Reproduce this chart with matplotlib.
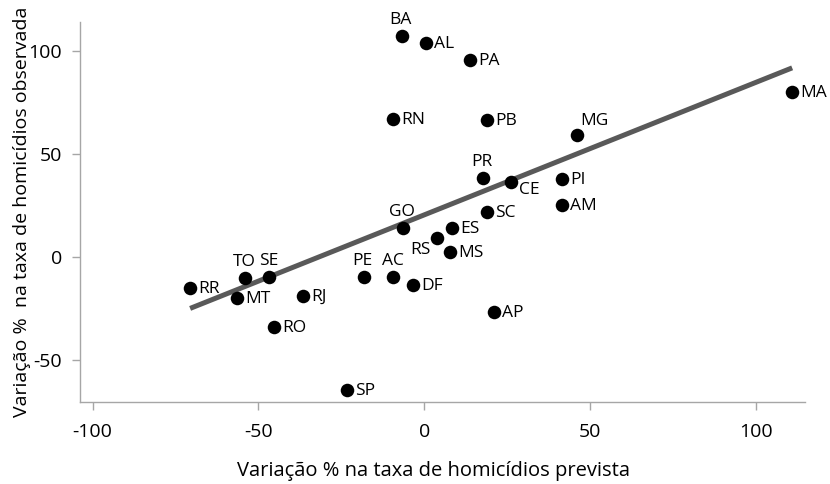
import numpy as np
import matplotlib
matplotlib.use("Agg")
import matplotlib.pyplot as plt

plt.rcParams['font.family'] = ['Open Sans', 'DejaVu Sans']

states = ["BA", "AL", "PA", "MA", "RN", "PB", "MG", "PR", "CE", "PI", "AM", "SC",
          "GO", "ES", "RS", "MS", "TO", "SE", "RR", "MT", "RJ", "PE", "AC", "DF",
          "AP", "RO", "SP"]
prevista = [-6.8, 0.5, 13.8, 110.9, -9.3, 19.0, 45.9, 17.6, 26.0, 41.6, 41.6, 18.8,
            -6.5, 8.3, 3.7, 7.7, -54.1, -46.7, -70.6, -56.4, -36.5, -18.3, -9.3, -3.3,
            21.0, -45.2, -23.4]
observada = [107.6, 104.2, 95.6, 80.4, 67.1, 66.7, 59.5, 38.6, 36.4, 38.0, 25.5, 21.8,
             14.1, 14.1, 9.2, 2.4, -10.2, -9.7, -15.0, -19.6, -18.8, -9.4, -9.7, -13.4,
             -26.7, -34.0, -64.2]

x_ticks = [-100, -50, 0, 50, 100]
y_ticks = [-50, 0, 50, 100]

# label placement style per state
label_pos = {"BA": "top", "GO": "top", "PR": "top", "TO": "top", "SE": "top",
             "PE": "top", "AC": "top", "MG": "topright", "CE": "lowright",
             "RS": "lowleft"}

fig = plt.figure(figsize=(8.30, 4.84), dpi=100)
ax = fig.add_axes([0.0964, 0.1694, 0.8736, 0.7851])

x = np.array(prevista)
y = np.array(observada)
slope, intercept = np.polyfit(x, y, 1)
xl = np.array([x.min(), x.max()])
ax.plot(xl, slope * xl + intercept, color="#595959", lw=3.6, solid_capstyle="butt", zorder=2)
ax.scatter(x, y, s=95, color="black", zorder=3, linewidths=0)

offsets = {
    "right": ((8, -1), "left", "center"),
    "top": ((-1, 8), "center", "bottom"),
    "topright": ((4, 6), "left", "bottom"),
    "lowright": ((8, -8), "left", "center"),
    "lowleft": ((-6, -12), "right", "center"),
}
for s, xi, yi in zip(states, prevista, observada):
    (dx, dy), ha, va = offsets[label_pos.get(s, "right")]
    ax.annotate(s, (xi, yi), xytext=(dx, dy), textcoords="offset pixels",
                ha=ha, va=va, fontsize=12.5, color="black", zorder=4)

ax.set_xlim(-103.8, 114.8)
ax.set_ylim(-70.2, 114.2)
ax.set_xticks(x_ticks)
ax.set_yticks(y_ticks)
ax.set_xticklabels([str(t) for t in x_ticks])
ax.set_yticklabels([str(t) for t in y_ticks])
for side in ["top", "right"]:
    ax.spines[side].set_visible(False)
for side in ["left", "bottom"]:
    ax.spines[side].set_color("#a6a6a6")
    ax.spines[side].set_linewidth(1.0)
ax.tick_params(axis="both", colors="#a6a6a6", length=6, width=1.0, labelsize=14,
               labelcolor="black", pad=7)
ax.tick_params(axis="x", pad=9)
ax.set_xlabel("Variação % na taxa de homicídios prevista", fontsize=14.5)
ax.xaxis.set_label_coords(0.488, -0.155)
ax.set_ylabel("Variação %  na taxa de homicídios observada", fontsize=14)
ax.yaxis.set_label_coords(-0.068, 0.5)

fig.savefig("out.png", dpi=100)
